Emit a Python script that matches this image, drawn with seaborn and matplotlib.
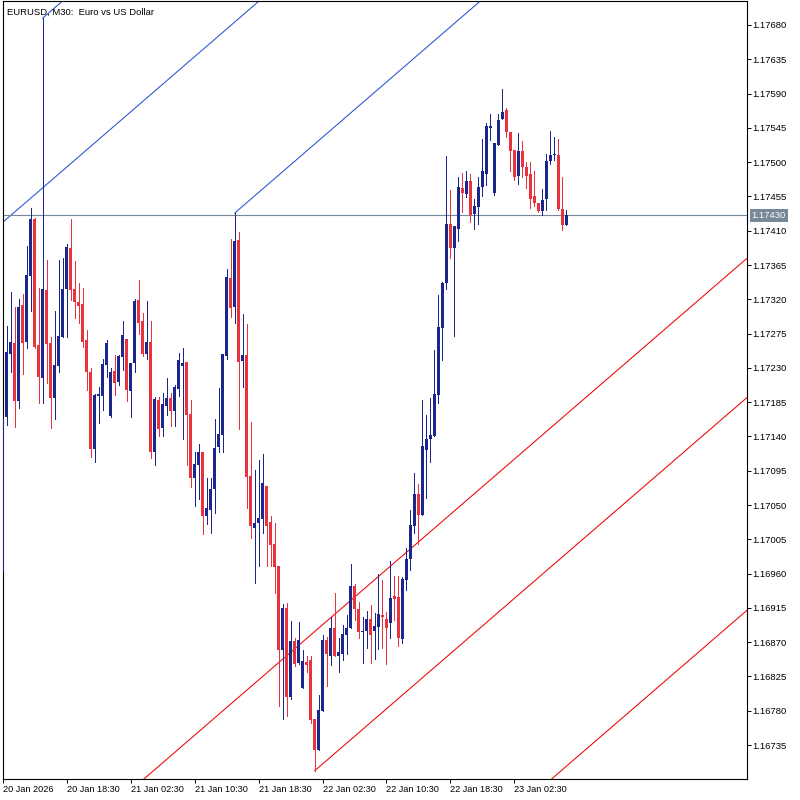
import numpy as np
import pandas as pd
import matplotlib
matplotlib.use("Agg")
import matplotlib.pyplot as plt
import seaborn as sns

# EURUSD M30 bars, left to right (bar 0 is cut by the left edge)
opens = [
    1.16962, 1.17165, 1.17248, 1.17263, 1.17186, 1.17313, 1.17264, 1.17350, 1.17425, 1.17260,
    1.17217, 1.17332, 1.17262, 1.17191, 1.17233, 1.17271, 1.17333, 1.17387, 1.17333, 1.17316,
    1.17314, 1.17267, 1.17224, 1.17123, 1.17193, 1.17193, 1.17234, 1.17167, 1.17226, 1.17211,
    1.17244, 1.17268, 1.17200, 1.17237, 1.17319, 1.17291, 1.17248, 1.17264, 1.17119, 1.17188,
    1.17151, 1.17180, 1.17191, 1.17174, 1.17202, 1.17233, 1.17238, 1.17169, 1.17086, 1.17103,
    1.17119, 1.17036, 1.17043, 1.17071, 1.17126, 1.17142, 1.17246, 1.17348, 1.17310, 1.17398,
    1.17239, 1.17247, 1.17088, 1.17020, 1.17027, 1.17032, 1.17075, 1.17028, 1.16999, 1.16970,
    1.16860, 1.16915, 1.16798, 1.16871, 1.16842, 1.16810, 1.16844, 1.16847, 1.16769, 1.16728,
    1.16780, 1.16873, 1.16852, 1.16889, 1.16852, 1.16855, 1.16879, 1.16889, 1.16944, 1.16914,
    1.16883, 1.16884, 1.16901, 1.16885, 1.16890, 1.16906, 1.16901, 1.16895, 1.16931, 1.16929,
    1.16874, 1.16952, 1.16979, 1.17022, 1.17065, 1.17037, 1.17122, 1.17137, 1.17141, 1.17195,
    1.17282, 1.17341, 1.17419, 1.17387, 1.17412, 1.17466, 1.17458, 1.17475, 1.17432, 1.17441,
    1.17467, 1.17485, 1.17545, 1.17459, 1.17523, 1.17556, 1.17568, 1.17539, 1.17516, 1.17482,
    1.17514, 1.17494, 1.17484, 1.17455, 1.17446, 1.17436, 1.17452, 1.17501, 1.17509, 1.17510,
    1.17439, 1.17418,
]
highs = [
    1.17168, 1.17285, 1.17329, 1.17310, 1.17321, 1.17327, 1.17390, 1.17440, 1.17427, 1.17335,
    1.17689, 1.17372, 1.17271, 1.17305, 1.17372, 1.17374, 1.17393, 1.17426, 1.17370, 1.17342,
    1.17335, 1.17280, 1.17230, 1.17196, 1.17205, 1.17242, 1.17267, 1.17230, 1.17247, 1.17247,
    1.17291, 1.17268, 1.17237, 1.17320, 1.17345, 1.17302, 1.17318, 1.17292, 1.17192, 1.17192,
    1.17197, 1.17217, 1.17197, 1.17208, 1.17250, 1.17256, 1.17238, 1.17188, 1.17119, 1.17130,
    1.17119, 1.17086, 1.17086, 1.17163, 1.17204, 1.17248, 1.17360, 1.17399, 1.17433, 1.17408,
    1.17301, 1.17288, 1.17159, 1.17096, 1.17109, 1.17117, 1.17075, 1.17035, 1.17026, 1.16970,
    1.16920, 1.16922, 1.16898, 1.16875, 1.16896, 1.16860, 1.16852, 1.16852, 1.16769, 1.16801,
    1.16880, 1.16877, 1.16903, 1.16935, 1.16875, 1.16893, 1.16906, 1.16973, 1.16946, 1.16923,
    1.16903, 1.16911, 1.16919, 1.16908, 1.16960, 1.16952, 1.16910, 1.16977, 1.16957, 1.16957,
    1.16956, 1.16994, 1.17043, 1.17092, 1.17077, 1.17188, 1.17168, 1.17191, 1.17253, 1.17326,
    1.17343, 1.17508, 1.17464, 1.17416, 1.17480, 1.17486, 1.17488, 1.17485, 1.17452, 1.17480,
    1.17530, 1.17551, 1.17563, 1.17525, 1.17563, 1.17596, 1.17571, 1.17539, 1.17516, 1.17538,
    1.17528, 1.17500, 1.17500, 1.17488, 1.17447, 1.17465, 1.17511, 1.17541, 1.17533, 1.17530,
    1.17481, 1.17437,
]
lows = [
    1.16958, 1.17155, 1.17225, 1.17153, 1.17177, 1.17222, 1.17256, 1.17304, 1.17256, 1.17184,
    1.17184, 1.17210, 1.17151, 1.17163, 1.17225, 1.17271, 1.17270, 1.17319, 1.17296, 1.17289,
    1.17258, 1.17201, 1.17113, 1.17106, 1.17158, 1.17175, 1.17218, 1.17166, 1.17194, 1.17208,
    1.17227, 1.17187, 1.17166, 1.17225, 1.17275, 1.17245, 1.17242, 1.17112, 1.17103, 1.17141,
    1.17140, 1.17168, 1.17154, 1.17154, 1.17193, 1.17137, 1.17102, 1.17073, 1.17049, 1.17058,
    1.17012, 1.17025, 1.17013, 1.17040, 1.17120, 1.17120, 1.17242, 1.17297, 1.17289, 1.17150,
    1.17205, 1.17046, 1.17007, 1.16948, 1.16970, 1.17013, 1.16970, 1.16970, 1.16935, 1.16786,
    1.16769, 1.16773, 1.16795, 1.16839, 1.16841, 1.16810, 1.16831, 1.16764, 1.16701, 1.16728,
    1.16780, 1.16812, 1.16840, 1.16852, 1.16831, 1.16847, 1.16855, 1.16889, 1.16899, 1.16875,
    1.16843, 1.16862, 1.16843, 1.16848, 1.16861, 1.16862, 1.16841, 1.16876, 1.16899, 1.16865,
    1.16869, 1.16938, 1.16965, 1.17013, 1.16999, 1.17037, 1.17059, 1.17106, 1.17140, 1.17184,
    1.17240, 1.17334, 1.17374, 1.17272, 1.17397, 1.17434, 1.17454, 1.17421, 1.17412, 1.17419,
    1.17456, 1.17470, 1.17529, 1.17457, 1.17522, 1.17556, 1.17533, 1.17489, 1.17477, 1.17471,
    1.17480, 1.17466, 1.17440, 1.17442, 1.17435, 1.17430, 1.17437, 1.17498, 1.17503, 1.17437,
    1.17411, 1.17418,
]
closes = [
    1.17164, 1.17251, 1.17264, 1.17186, 1.17310, 1.17263, 1.17352, 1.17425, 1.17258, 1.17218,
    1.17334, 1.17261, 1.17191, 1.17234, 1.17272, 1.17334, 1.17388, 1.17332, 1.17316, 1.17311,
    1.17264, 1.17224, 1.17123, 1.17194, 1.17196, 1.17235, 1.17262, 1.17224, 1.17210, 1.17245,
    1.17273, 1.17201, 1.17237, 1.17318, 1.17289, 1.17248, 1.17264, 1.17120, 1.17189, 1.17150,
    1.17183, 1.17191, 1.17174, 1.17205, 1.17240, 1.17237, 1.17168, 1.17085, 1.17104, 1.17119,
    1.17036, 1.17046, 1.17071, 1.17125, 1.17143, 1.17248, 1.17349, 1.17309, 1.17397, 1.17238,
    1.17247, 1.17087, 1.17022, 1.17027, 1.17033, 1.17079, 1.17022, 1.16998, 1.16968, 1.16860,
    1.16915, 1.16798, 1.16871, 1.16841, 1.16873, 1.16845, 1.16840, 1.16768, 1.16728, 1.16781,
    1.16873, 1.16855, 1.16889, 1.16852, 1.16857, 1.16881, 1.16889, 1.16944, 1.16914, 1.16883,
    1.16885, 1.16901, 1.16879, 1.16891, 1.16907, 1.16903, 1.16889, 1.16928, 1.16927, 1.16876,
    1.16953, 1.16979, 1.17024, 1.17065, 1.17037, 1.17127, 1.17137, 1.17142, 1.17196, 1.17283,
    1.17341, 1.17419, 1.17387, 1.17416, 1.17467, 1.17460, 1.17475, 1.17431, 1.17442, 1.17468,
    1.17489, 1.17547, 1.17548, 1.17525, 1.17555, 1.17566, 1.17540, 1.17514, 1.17481, 1.17515,
    1.17494, 1.17482, 1.17451, 1.17446, 1.17436, 1.17450, 1.17501, 1.17509, 1.17511, 1.17439,
    1.17418, 1.17430,
]

time_ticks = [0, 16, 32, 48, 64, 80, 96, 112, 128]
time_labels = ["20 Jan 2026", "20 Jan 18:30", "21 Jan 02:30", "21 Jan 10:30", "21 Jan 18:30",
               "22 Jan 02:30", "22 Jan 10:30", "22 Jan 18:30", "23 Jan 02:30"]
price_ticks = [round(1.16735 + 0.00045 * i, 5) for i in range(22)]
last_price = 1.17430

# trend lines: (anchor bar, anchor price), all share one slope (price per bar)
trend_slope = 0.0000453
blue_rays = [(10, highs[10]), (58, highs[58])]
blue_lines = [(0, 1.17421)]
red_rays = [(78, lows[78])]
red_lines = [(186, 1.17373), (186, 1.16911)]

BULL = "#1b268c"
BEAR = "#e8323d"

sns.set_theme(style="white")
plt.rcParams["font.family"] = ["Liberation Sans", "DejaVu Sans"]
plt.rcParams["font.size"] = 6.8

df = pd.DataFrame({"open": opens, "high": highs, "low": lows, "close": closes})
df["bar"] = np.arange(len(df))
df["color"] = np.where(df["close"] >= df["open"], BULL, BEAR)

fig = plt.figure(figsize=(8, 8), dpi=100)
ax = fig.add_axes([0.0034, 0.02625, 0.93035, 0.97213])
x0, x1 = 0.1, 186.18
y0, y1 = 1.166904, 1.177111

# trend lines under the candles
for anchors, color, ray in [(blue_rays, "#2650d8", True), (blue_lines, "#2650d8", False),
                            (red_rays, "#f00000", True), (red_lines, "#f00000", False)]:
    for b, p in anchors:
        xs = np.array([b if ray else -50, 260])
        ax.plot(xs, p + trend_slope * (xs - b), color=color, lw=0.75, zorder=1)

ax.axhline(last_price, color="#778899", lw=0.8, zorder=1)

wick_lo = df[["low", "open", "close"]].min(axis=1)
wick_hi = df[["high", "open", "close"]].max(axis=1)
ax.vlines(df["bar"], wick_lo, wick_hi, colors=df["color"], linewidths=0.5,
          antialiased=False, zorder=2)
body_lo = df[["open", "close"]].min(axis=1)
body_h = np.maximum((df["close"] - df["open"]).abs(), 0.000013)
ax.bar(df["bar"], body_h, bottom=body_lo, width=0.75, color=df["color"], linewidth=0,
       antialiased=False, zorder=3)

ax.set_xlim(x0, x1)
ax.set_ylim(y0, y1)

ax.yaxis.tick_right()
ax.set_yticks(price_ticks)
ax.set_yticklabels([f"{p:.5f}" for p in price_ticks])
ax.set_xticks(time_ticks)
ax.set_xticklabels(time_labels)
plt.setp(ax.get_xticklabels(), ha="left")
ax.tick_params(axis="y", right=True, left=False, direction="out", length=3, width=0.7,
               pad=0.8, labelsize=6.8, colors="black")
ax.tick_params(axis="x", bottom=True, direction="out", length=3, width=0.7, pad=1.5,
               labelsize=6.6, colors="black")
for s in ax.spines.values():
    s.set_color("black")
    s.set_linewidth(0.8)

ax.annotate("EURUSD, M30:  Euro vs US Dollar", xy=(0, 1), xycoords="axes fraction",
            xytext=(3, -4.6), textcoords="offset points", ha="left", va="top",
            fontsize=6.8, color="black")

ax.annotate(f"{last_price:.5f}", xy=(1, last_price), xycoords=("axes fraction", "data"),
            xytext=(3.2, 0), textcoords="offset points", ha="left", va="center",
            fontsize=6.8, color="white",
            bbox=dict(boxstyle="square,pad=0.2", fc="#778899", ec="none"))

fig.savefig("out.png", dpi=100, facecolor="white")
